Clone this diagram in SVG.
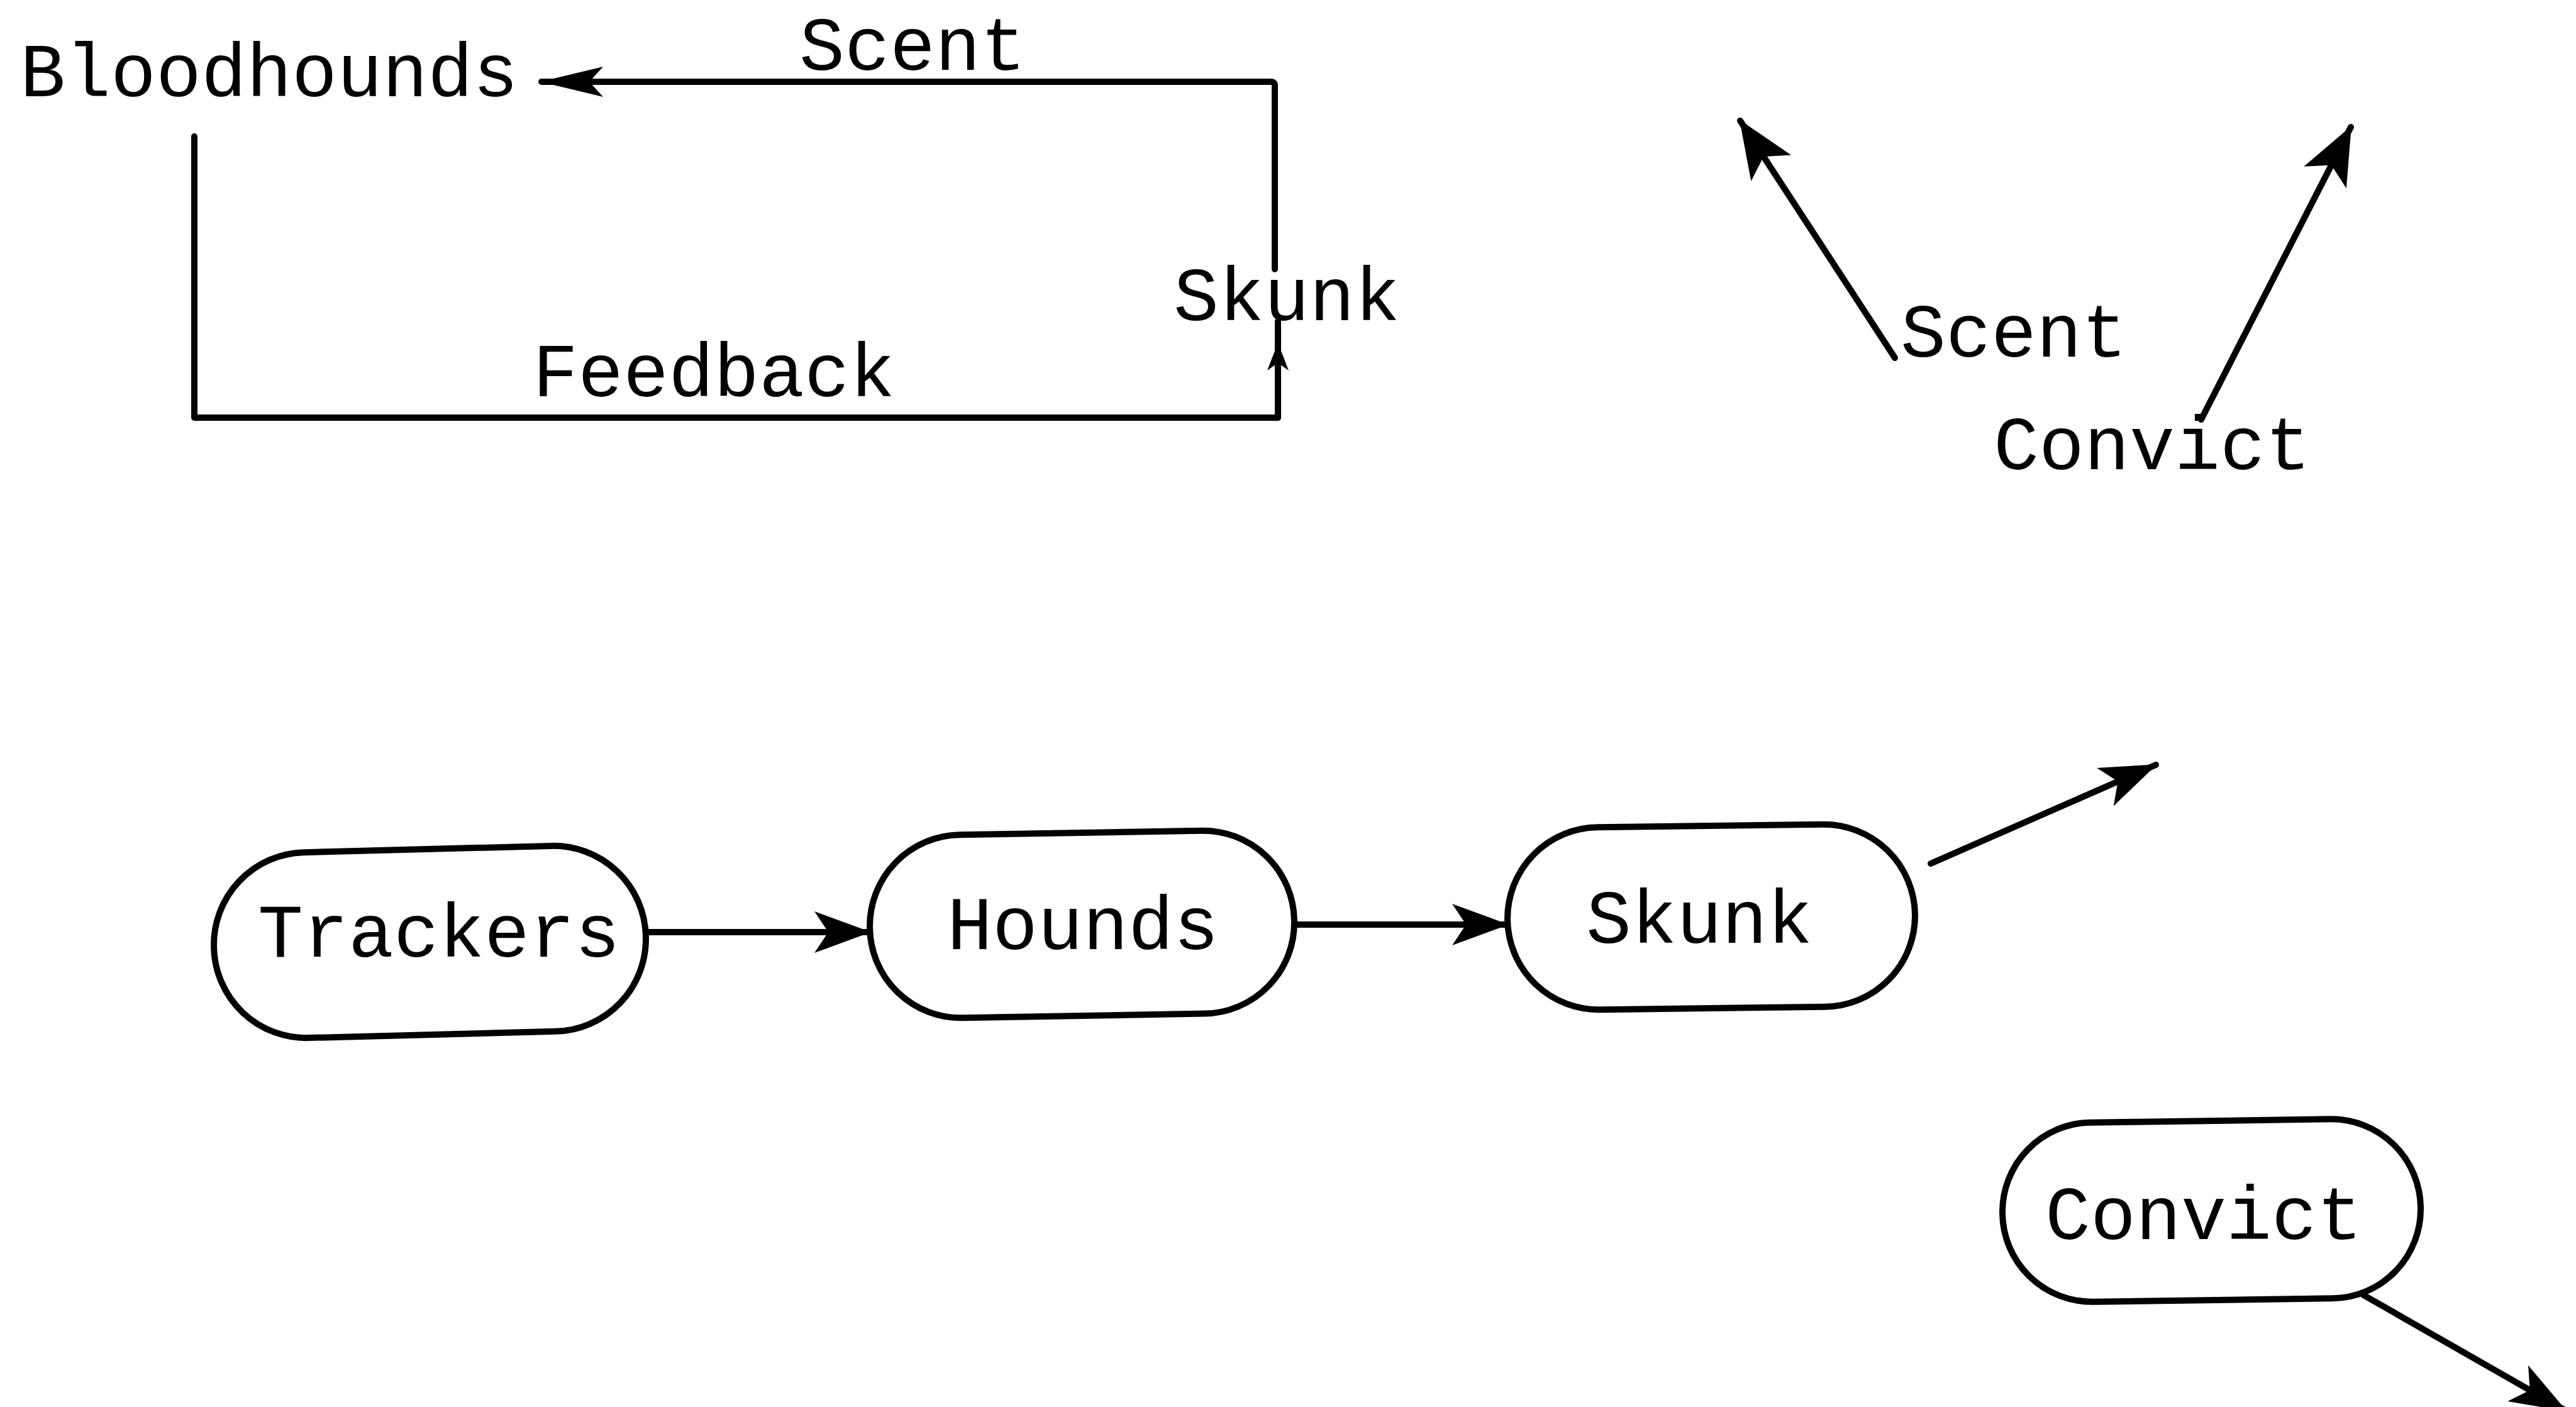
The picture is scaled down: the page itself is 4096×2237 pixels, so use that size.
<svg xmlns="http://www.w3.org/2000/svg" width="4096" height="2237" viewBox="0 0 4096 2237">
<style>
text{font-family:"Liberation Mono","DejaVu Sans Mono",monospace;font-size:120px;fill:#000}
.ln{fill:none;stroke:#000;stroke-width:10;stroke-linejoin:round;stroke-linecap:round}
.box{fill:#fff;stroke:#000;stroke-width:10}
</style>
<defs>
<marker id="arr" markerUnits="userSpaceOnUse" markerWidth="90" markerHeight="66" viewBox="0 0 90 66" refX="88" refY="33" orient="auto">
<path d="M0,0 L90,33 L0,66 L22,33 Z" fill="#000"/>
</marker>
<marker id="arrl" markerUnits="userSpaceOnUse" markerWidth="100" markerHeight="48" viewBox="0 0 100 48" refX="98" refY="24" orient="auto">
<path d="M0,0 L100,24 L0,48 L22,24 Z" fill="#000"/>
</marker>
<marker id="arrt" markerUnits="userSpaceOnUse" markerWidth="92" markerHeight="76" viewBox="0 0 92 76" refX="90" refY="38" orient="auto">
<path d="M0,0 L92,38 L0,76 L22,38 Z" fill="#000"/>
</marker>
<marker id="arrs" markerUnits="userSpaceOnUse" markerWidth="44" markerHeight="34" viewBox="0 0 44 34" refX="44" refY="17" orient="auto">
<path d="M0,0 L44,17 L0,34 L12,17 Z" fill="#000"/>
</marker>
</defs>
<rect width="4096" height="2237" fill="#fff"/>

<g id="connectors">
<path class="ln" d="M309,217 L309,664 L2032,664"/>
<path class="ln" d="M2032,664 L2032,545 L2032,511" marker-mid="url(#arrs)"/>
<path class="ln" d="M2027,428 L2027,136 Q2027,130 2021,130 L861,130" marker-end="url(#arrl)"/>
<line class="ln" x1="3013" y1="569" x2="2767" y2="192" marker-end="url(#arrt)"/>
<line class="ln" x1="3500" y1="667" x2="3738" y2="202" marker-end="url(#arrt)"/>
<line class="ln" x1="1027" y1="1482" x2="1383" y2="1482" marker-end="url(#arr)"/>
<line class="ln" x1="2058" y1="1470" x2="2397" y2="1470" marker-end="url(#arr)"/>
<line class="ln" x1="3070" y1="1373" x2="3428" y2="1216" marker-end="url(#arr)"/>
<line class="ln" x1="3758" y1="2059" x2="4080" y2="2243" marker-end="url(#arr)"/>
</g>

<g id="label-bloodhounds"><text x="32" y="153">Bloodhounds</text></g>
<g id="label-scent-top"><text x="1271" y="111">Scent</text></g>
<g id="label-skunk-top"><text x="1866" y="509">Skunk</text></g>
<g id="label-feedback"><text x="847" y="630">Feedback</text></g>
<g id="label-scent-right"><text x="3022" y="567">Scent</text></g>
<g id="label-convict-right"><text x="3170" y="746">Convict</text></g>

<g id="node-trackers">
<rect class="box" x="340" y="1350" width="687" height="295" rx="147" ry="147" transform="rotate(-1.5 683 1498)"/>
<text x="410" y="1521">Trackers</text>
</g>
<g id="node-hounds">
<rect class="box" x="1383" y="1324" width="675" height="291" rx="145" ry="145" transform="rotate(-1 1720 1469)"/>
<text x="1506" y="1509">Hounds</text>
</g>
<g id="node-skunk">
<rect class="box" x="2397" y="1313" width="648" height="290" rx="145" ry="145" transform="rotate(-0.7 2721 1458)"/>
<text x="2522" y="1499">Skunk</text>
</g>
<g id="node-convict">
<rect class="box" x="3184" y="1782" width="665" height="285" rx="142" ry="142" transform="rotate(-0.8 3516 1924)"/>
<text x="3252" y="1970">Convict</text>
</g>
</svg>
